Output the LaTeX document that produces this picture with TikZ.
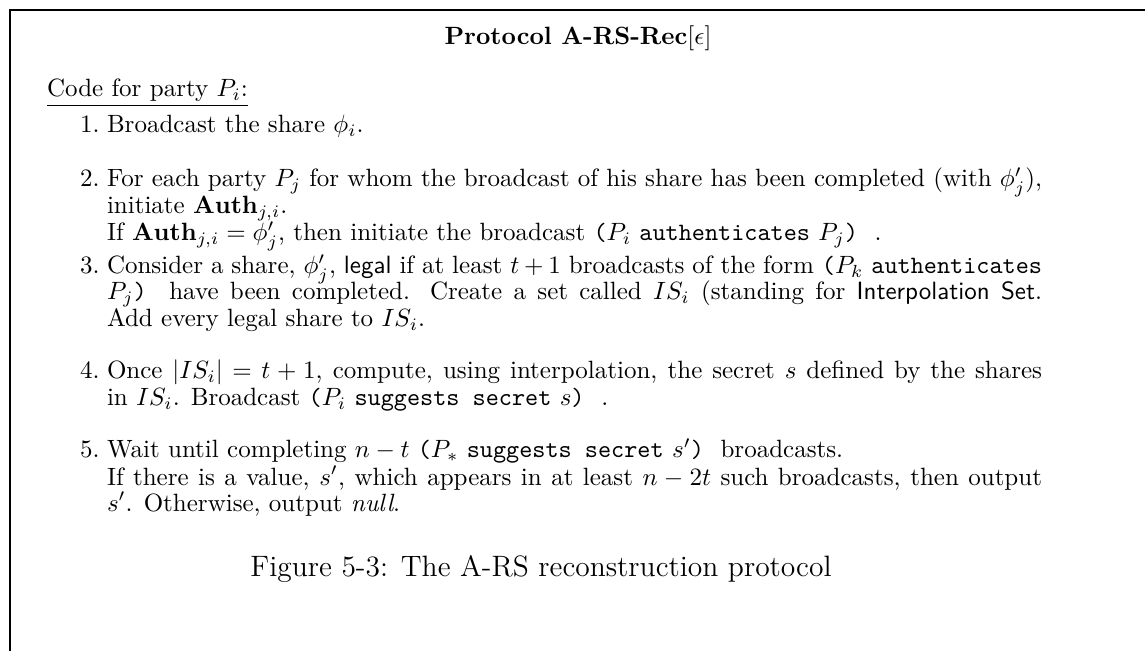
\documentclass[tikz,border=0pt]{standalone}
\usepackage{amsmath}
\newlength{\itemw}
\setlength{\itemw}{374pt}
% a line stretched to the full item width
\newcommand{\fullline}[1]{\makebox[\itemw][s]{#1}}
\begin{document}
\begin{tikzpicture}[x=0.4pt,y=-0.4pt,
  txt/.style={anchor=base west,inner sep=0pt,outer sep=0pt,font=\fontsize{10}{11}\selectfont},
  num/.style={txt},
  frame/.style={line width=0.9pt}]
\useasboundingbox (0,0) rectangle (1145,651);
% open frame: left and top edges
\draw[frame] (10,651) -- (10,10) -- (1145,10);
% heading
\node[txt,anchor=base] (title) at (578,45) {\textbf{Protocol A-RS-Rec}$[\epsilon]$};
\node[txt] (code) at (47,97) {\underline{Code for party $P_i$:}};
% item 1
\node[num] (n1) at (80,133) {1.};
\node[txt] (l1a) at (107,133) {Broadcast the share $\phi_i$.};
% item 2
\node[num] (n2) at (80,187) {2.};
\node[txt] (l2a) at (107,187) {\fullline{For each party $P_j$ for whom the broadcast of his share has been completed (with $\phi'_j$),}};
\node[txt] (l2b) at (107,214) {initiate $\mathbf{Auth}_{j,i}$.};
\node[txt] (l2c) at (107,241) {If $\mathbf{Auth}_{j,i} = \phi'_j$, then initiate the broadcast \texttt{(}$P_i$\ \texttt{authenticates}\ $P_j$\texttt{)}\ \ .};
% item 3
\node[num] (n3) at (80,274) {3.};
\node[txt] (l3a) at (107,274) {\fullline{Consider a share, $\phi'_j$, \textsf{legal} if at least $t+1$ broadcasts of the form \texttt{(}$P_k$\ \texttt{authenticates}}};
\node[txt] (l3b) at (107,300) {\fullline{$P_j$\texttt{)}\ \ have been completed. Create a set called $IS_i$ (standing for \textsf{Interpolation Set}.}};
\node[txt] (l3c) at (107,327) {Add every legal share to $IS_i$.};
% item 4
\node[num] (n4) at (80,379) {4.};
\node[txt] (l4a) at (107,379) {\fullline{Once $|IS_i| = t+1$, compute, using interpolation, the secret $s$ defined by the shares}};
\node[txt] (l4b) at (107,406) {in $IS_i$. Broadcast \texttt{(}$P_i$\ \texttt{suggests secret}\ $s$\texttt{)}\ \ .};
% item 5
\node[num] (n5) at (80,458) {5.};
\node[txt] (l5a) at (107,458) {Wait until completing $n-t$ \texttt{(}$P_*$\ \texttt{suggests secret}\ $s'$\texttt{)}\ \ broadcasts.};
\node[txt] (l5b) at (107,485) {\fullline{If there is a value, $s'$, which appears in at least $n-2t$ such broadcasts, then output}};
\node[txt] (l5c) at (107,511) {$s'$. Otherwise, output \textit{null}.};
% caption
\node[txt,anchor=base,font=\fontsize{11.8}{13}\selectfont] (cap) at (541,576) {Figure 5-3: The A-RS reconstruction protocol};
\end{tikzpicture}
\end{document}
